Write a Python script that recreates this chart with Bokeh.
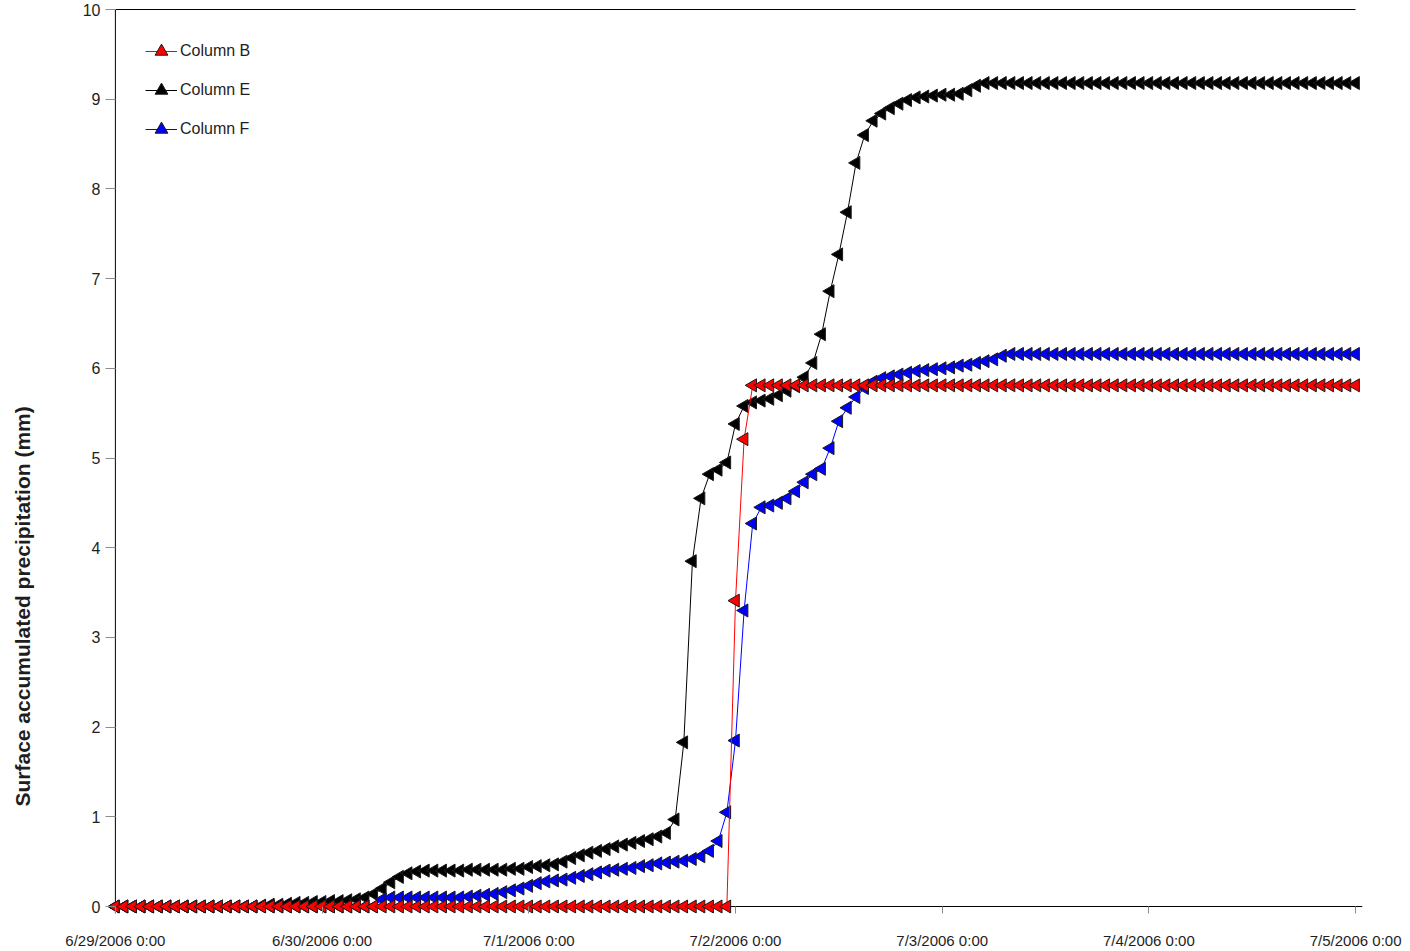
from math import pi

from bokeh.embed import file_html
from bokeh.models import (ColumnDataSource, FixedTicker, Legend, LegendItem,
                          LinearAxis, Span, Title)
from bokeh.plotting import figure
from bokeh.resources import INLINE

# Hourly readings, hour 0 = 6/29/2006 0:00, hour 144 = 7/5/2006 0:00
hours = list(range(145))

day_ticks = [0, 24, 48, 72, 96, 120, 144]
day_labels = ["6/29/2006 0:00", "6/30/2006 0:00", "7/1/2006 0:00",
              "7/2/2006 0:00", "7/3/2006 0:00", "7/4/2006 0:00",
              "7/5/2006 0:00"]
value_ticks = [0, 1, 2, 3, 4, 5, 6, 7, 8, 9, 10]

# Surface accumulated precipitation (mm)
column_b = [
    0.00, 0.00, 0.00, 0.00, 0.00, 0.00, 0.00, 0.00, 0.00, 0.00, 0.00, 0.00,
    0.00, 0.00, 0.00, 0.00, 0.00, 0.00, 0.00, 0.00, 0.00, 0.00, 0.00, 0.00,
    0.00, 0.00, 0.00, 0.00, 0.00, 0.00, 0.00, 0.00, 0.00, 0.00, 0.00, 0.00,
    0.00, 0.00, 0.00, 0.00, 0.00, 0.00, 0.00, 0.00, 0.00, 0.00, 0.00, 0.00,
    0.00, 0.00, 0.00, 0.00, 0.00, 0.00, 0.00, 0.00, 0.00, 0.00, 0.00, 0.00,
    0.00, 0.00, 0.00, 0.00, 0.00, 0.00, 0.00, 0.00, 0.00, 0.00, 0.00, 0.00,
    3.41, 5.21, 5.81, 5.81, 5.81, 5.81, 5.81, 5.81, 5.81, 5.81, 5.81, 5.81,
    5.81, 5.81, 5.81, 5.81, 5.81, 5.81, 5.81, 5.81, 5.81, 5.81, 5.81, 5.81,
    5.81, 5.81, 5.81, 5.81, 5.81, 5.81, 5.81, 5.81, 5.81, 5.81, 5.81, 5.81,
    5.81, 5.81, 5.81, 5.81, 5.81, 5.81, 5.81, 5.81, 5.81, 5.81, 5.81, 5.81,
    5.81, 5.81, 5.81, 5.81, 5.81, 5.81, 5.81, 5.81, 5.81, 5.81, 5.81, 5.81,
    5.81, 5.81, 5.81, 5.81, 5.81, 5.81, 5.81, 5.81, 5.81, 5.81, 5.81, 5.81,
    5.81,
]

column_e = [
    0.00, 0.00, 0.00, 0.00, 0.00, 0.00, 0.00, 0.00, 0.00, 0.00, 0.00, 0.00,
    0.00, 0.00, 0.00, 0.00, 0.00, 0.01, 0.02, 0.02, 0.03, 0.04, 0.04, 0.05,
    0.05, 0.06, 0.06, 0.07, 0.08, 0.10, 0.14, 0.20, 0.27, 0.33, 0.37, 0.39,
    0.40, 0.40, 0.40, 0.40, 0.40, 0.41, 0.41, 0.41, 0.41, 0.41, 0.42, 0.42,
    0.44, 0.45, 0.46, 0.47, 0.50, 0.54, 0.57, 0.60, 0.62, 0.64, 0.67, 0.69,
    0.71, 0.73, 0.75, 0.78, 0.82, 0.97, 1.83, 3.85, 4.55, 4.82, 4.87, 4.95,
    5.38, 5.58, 5.62, 5.64, 5.66, 5.70, 5.75, 5.80, 5.90, 6.06, 6.38, 6.86,
    7.27, 7.74, 8.29, 8.60, 8.76, 8.84, 8.90, 8.95, 8.99, 9.02, 9.03, 9.04,
    9.05, 9.05, 9.06, 9.10, 9.15, 9.18, 9.18, 9.18, 9.18, 9.18, 9.18, 9.18,
    9.18, 9.18, 9.18, 9.18, 9.18, 9.18, 9.18, 9.18, 9.18, 9.18, 9.18, 9.18,
    9.18, 9.18, 9.18, 9.18, 9.18, 9.18, 9.18, 9.18, 9.18, 9.18, 9.18, 9.18,
    9.18, 9.18, 9.18, 9.18, 9.18, 9.18, 9.18, 9.18, 9.18, 9.18, 9.18, 9.18,
    9.18,
]

column_f = [
    0.00, 0.00, 0.00, 0.00, 0.00, 0.00, 0.00, 0.00, 0.00, 0.00, 0.00, 0.00,
    0.00, 0.00, 0.00, 0.00, 0.00, 0.00, 0.00, 0.00, 0.00, 0.00, 0.00, 0.00,
    0.00, 0.00, 0.00, 0.00, 0.00, 0.00, 0.00, 0.08, 0.10, 0.10, 0.10, 0.10,
    0.10, 0.10, 0.10, 0.10, 0.10, 0.11, 0.12, 0.13, 0.14, 0.16, 0.18, 0.20,
    0.23, 0.26, 0.28, 0.29, 0.30, 0.32, 0.34, 0.36, 0.38, 0.40, 0.41, 0.42,
    0.43, 0.45, 0.46, 0.48, 0.49, 0.50, 0.51, 0.53, 0.56, 0.62, 0.73, 1.05,
    1.85, 3.30, 4.27, 4.45, 4.47, 4.50, 4.55, 4.63, 4.73, 4.82, 4.88, 5.11,
    5.41, 5.56, 5.68, 5.78, 5.85, 5.89, 5.91, 5.93, 5.95, 5.97, 5.98, 5.99,
    6.00, 6.01, 6.03, 6.04, 6.06, 6.08, 6.10, 6.14, 6.16, 6.16, 6.16, 6.16,
    6.16, 6.16, 6.16, 6.16, 6.16, 6.16, 6.16, 6.16, 6.16, 6.16, 6.16, 6.16,
    6.16, 6.16, 6.16, 6.16, 6.16, 6.16, 6.16, 6.16, 6.16, 6.16, 6.16, 6.16,
    6.16, 6.16, 6.16, 6.16, 6.16, 6.16, 6.16, 6.16, 6.16, 6.16, 6.16, 6.16,
    6.16,
]

series_names = ["Column B", "Column E", "Column F"]
series_colors = ["#ff0000", "#000000", "#0000ff"]

FONT = "Liberation Sans"
TEXT = "#1e1e1e"
TICK = "#8c8c8c"

# The frame reaches slightly past 0 h, 144 h and 0 mm so markers sitting on
# the axes are drawn whole; the zero lines are drawn as spans.
p = figure(width=1410, height=951, output_backend="svg", toolbar_location=None,
           x_range=(-0.8, 144.8), y_range=(-0.078, 10),
           min_border_left=108, min_border_right=48,
           min_border_top=9, min_border_bottom=38)
p.xgrid.visible = False
p.ygrid.visible = False
p.outline_line_color = None
p.background_fill_color = "white"
p.border_fill_color = "white"

# bottom time axis: ticks reach up from the frame edge to the 0 mm line
xa = p.xaxis[0]
xa.ticker = FixedTicker(ticks=day_ticks)
xa.major_label_overrides = dict(zip(day_ticks, day_labels))
xa.axis_line_color = None
xa.major_tick_line_color = TICK
xa.major_tick_out = 0
xa.major_tick_in = 7
xa.minor_tick_line_color = None
xa.major_label_standoff = 18
xa.major_label_text_font = FONT
xa.major_label_text_font_size = "15px"
xa.major_label_text_color = TEXT

# left value axis: ticks run from outside the frame to the 0 h line
ya = p.yaxis[0]
ya.ticker = FixedTicker(ticks=value_ticks)
ya.axis_line_color = None
ya.major_tick_line_color = TICK
ya.major_tick_out = 3
ya.major_tick_in = 7
ya.minor_tick_line_color = None
ya.major_label_standoff = 5
ya.major_label_text_font = FONT
ya.major_label_text_font_size = "16px"
ya.major_label_text_color = TEXT
ya.axis_label = " "
ya.axis_label_text_font_size = "2px"
ya.axis_label_standoff = 30

# zero lines
p.add_layout(Span(location=0, dimension="width", line_color="#000000",
                  line_width=1, level="underlay"))
p.add_layout(Span(location=0, dimension="height", line_color="#000000",
                  line_width=1, level="underlay"))

# plain rule along the top of the plot area
top = LinearAxis(ticker=FixedTicker(ticks=[]), bounds=(0, 144),
                 axis_line_color="#000000", major_tick_out=0,
                 minor_tick_out=0, major_label_standoff=0,
                 major_tick_line_color=None, minor_tick_line_color=None)
p.add_layout(top, "above")

# value-axis title, set low beside the axis
p.add_layout(Title(text="Surface accumulated precipitation (mm)",
                   align="left", offset=107, vertical_align="middle",
                   standoff=19, text_font=FONT, text_font_size="21px",
                   text_font_style="bold", text_color=TEXT), "left")

columns = {"Column B": column_b, "Column E": column_e, "Column F": column_f}
items = {}
# Column E first, then F, with B drawn on top
for name in ["Column E", "Column F", "Column B"]:
    color = series_colors[series_names.index(name)]
    src = ColumnDataSource(data=dict(h=hours, v=columns[name]))
    ln = p.line("h", "v", source=src, line_color=color, line_width=1)
    mk = p.scatter("h", "v", source=src, marker="triangle", angle=pi / 2,
                   size=13, fill_color=color, line_color="#1a1a1a",
                   line_width=1)
    items[name] = LegendItem(label=name, renderers=[ln, mk])

legend = Legend(items=[items[n] for n in series_names], location=(37, 767),
                margin=0, padding=0, border_line_color=None,
                background_fill_alpha=0, glyph_width=32, glyph_height=34,
                label_height=34, spacing=5, label_standoff=3,
                label_text_font=FONT, label_text_font_size="16px",
                label_text_color=TEXT)
p.add_layout(legend)

open("out.html", "w").write(file_html(p, INLINE))
